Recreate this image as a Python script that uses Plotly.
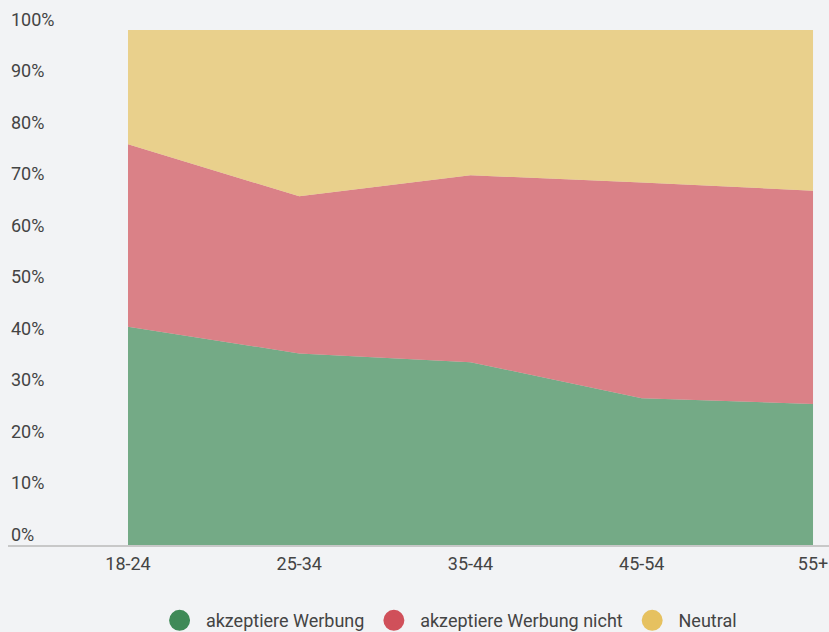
import plotly.graph_objects as go

categories = ["18-24", "25-34", "35-44", "45-54", "55+"]
akzeptiere = [42.4, 37.2, 35.5, 28.5, 27.4]
nicht = [35.4, 30.5, 36.3, 41.9, 41.4]
neutral = [22.2, 32.3, 28.2, 29.6, 31.2]
series_names = ["akzeptiere Werbung", "akzeptiere Werbung nicht", "Neutral"]
y_ticks = [0, 10, 20, 30, 40, 50, 60, 70, 80, 90, 100]
y_tick_labels = [f"{v}%" for v in y_ticks]

base_colors = ["#3f8a57", "#d0505a", "#e6c160"]
fill_colors = ["rgba(63,138,87,0.7)", "rgba(208,80,88,0.7)", "rgba(229,193,96,0.7)"]
bg = "#f2f3f5"
txt = "#444444"

fig = go.Figure()
for name, vals, fc in zip(series_names, [akzeptiere, nicht, neutral], fill_colors):
    fig.add_trace(go.Scatter(
        x=categories, y=vals, name=name, stackgroup="one", mode="lines",
        line=dict(width=0, color=fc), fillcolor=fc, showlegend=False,
        hoverinfo="x+y+name",
    ))

for name, c in zip(series_names, base_colors):
    fig.add_trace(go.Scatter(
        x=[None], y=[None], name="\u00a0\u200a" + name + "\u00a0", mode="markers",
        marker=dict(size=16, color=c, symbol="circle", line=dict(width=6, color=c)),
        showlegend=True,
    ))

n = len(categories)
px_per_unit = 5.15
top_px = 30  # pixel row of 100%
y_max = 100 + top_px / px_per_unit
fig.update_layout(
    width=829, height=632,
    paper_bgcolor=bg, plot_bgcolor=bg,
    margin=dict(l=8, r=0, t=0, b=87),
    font=dict(family="Roboto", size=18, color=txt),
    showlegend=True,
    legend=dict(
        orientation="h", xref="container", yref="container",
        x=0.1925, xanchor="left", y=0.018, yanchor="middle",
        traceorder="normal",
        font=dict(size=18, color=txt),
        bgcolor="rgba(0,0,0,0)",
    ),
    xaxis=dict(
        type="category", range=[-0.7007, (n - 1) + 0.0934],
        showgrid=False, zeroline=False,
        showline=True, linecolor="#c8c8c8", linewidth=2,
        ticks="", ticklabelstandoff=1,
        tickfont=dict(size=18, color=txt),
        fixedrange=True,
    ),
    yaxis=dict(
        range=[0, y_max], tickvals=y_ticks, ticktext=y_tick_labels,
        showgrid=False, zeroline=False, showline=False,
        ticks="", ticklabelposition="inside top", ticklabelshift=2,
        tickfont=dict(size=18, color=txt),
        fixedrange=True,
    ),
)

fig.write_html(
    "out.html",
    config={"displayModeBar": False},
    post_script="document.body.style.margin='0';document.body.style.background='%s';" % bg,
)
